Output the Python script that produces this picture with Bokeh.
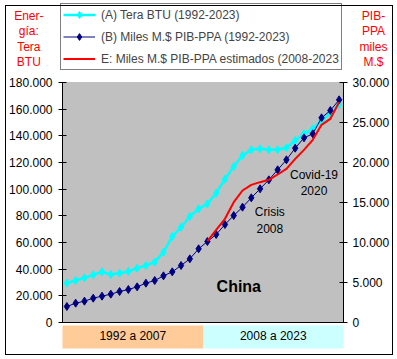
from bokeh.plotting import figure
from bokeh.models import (Range1d, LinearAxis, FixedTicker, CustomJSTickFormatter,
                          BoxAnnotation, Label, Legend, LegendItem, InlineStyleSheet)
from bokeh.embed import file_html
from bokeh.resources import INLINE

# ---------------- data ----------------
years = list(range(1992, 2024))
energy_tbtu = [29500, 31500, 33500, 35750, 38000, 36000, 37000, 38250, 40750, 42750,
               45250, 52750, 64500, 71500, 79500, 85250, 89000, 97000, 107500, 117000,
               125250, 129500, 130250, 129500, 129500, 131000, 136500, 141500, 145250,
               151500, 156500, 163500]
gdp_ppa = [2000, 2417, 2667, 3042, 3292, 3542, 3875, 4125, 4458, 4917, 5250, 5833, 6333,
           7125, 7958, 9208, 10125, 11000, 12250, 13375, 14417, 15583, 16708, 17833, 19083,
           20333, 21792, 23083, 23583, 25583, 26500, 27833]
est_years = list(range(2008, 2024))
gdp_est = [10167, 11583, 12958, 15042, 16500, 17208, 17542, 17833, 18500, 19208, 20458,
           21583, 22833, 24708, 25458, 27542]
left_ticks = [0, 20000, 40000, 60000, 80000, 100000, 120000, 140000, 160000, 180000]
right_ticks = [0, 5000, 10000, 15000, 20000, 25000, 30000]
period_start = [1992, 2008]
period_end = [2007, 2023]
period_labels = ["%d a %d" % (a, b) for a, b in zip(period_start, period_end)]
period_colors = ["#FFCC99", "#CCFFFF"]
series_labels = ["(A) Tera BTU (1992-2023)", "(B) Miles M.$ PIB-PPA (1992-2023)",
                 "E: Miles M.$ PIB-PPA estimados (2008-2023"]
left_title = ["Ener-", "gía:", "Tera", "BTU"]
right_title = ["PIB-", "PPA", "miles", "M.$"]
crisis_note = ["Crisis", "2008"]
covid_note = ["Covid-19", "2020"]

FONT = "Liberation Sans"
W, H = 397, 359
PX_L = 750.0      # left-axis units per pixel
PX_R = 125.0      # right-axis units per pixel
LMAX, RMAX = 180000, 30000
N = len(years)

def ly(py):       # canvas y -> left axis value
    return (322 - py) * PX_L

def dx(px):       # canvas x -> x data
    return (px - 62) * N / 281.0

x = [i + 0.5 for i in range(N)]
x_est = [years.index(y) + 0.5 for y in est_years]

p = figure(width=W, height=H, output_backend="svg", toolbar_location=None,
           x_range=Range1d(dx(0), dx(W)), y_range=Range1d(ly(H), ly(0)),
           x_axis_location=None, y_axis_location=None,
           min_border_left=0, min_border_right=0, min_border_top=0, min_border_bottom=0,
           background_fill_color="white", border_fill_color="white", outline_line_color=None)
p.extra_y_ranges = {"r": Range1d((322 - H) * PX_R, 322 * PX_R)}
p.grid.visible = False
p.stylesheets = [InlineStyleSheet(css=""":host::after { content: ""; position: absolute;
  left: 5px; top: 5px; width: 386px; height: 348px; border: 1px solid #000;
  pointer-events: none; z-index: 10; box-sizing: content-box; }""")]

# plot area background
p.add_layout(BoxAnnotation(left=0, right=N, bottom=0, top=LMAX, fill_color="#C0C0C0",
                           fill_alpha=1, line_color="#808080", line_width=1, level="underlay"))

# period bands below the plot
p.quad(left=[years.index(s) for s in period_start],
       right=[years.index(e) + 1 for e in period_end],
       bottom=ly(348), top=ly(325), fill_color=period_colors, line_color=None)
p.text(x=[(years.index(s) + years.index(e) + 1) / 2 for s, e in zip(period_start, period_end)],
       y=ly(335.5), text=period_labels, text_align="center", text_baseline="middle",
       text_font={"value": FONT}, text_font_size="12px", text_color="black")

# series
cyan_line = p.line(x, energy_tbtu, line_color="#00FFFF", line_width=2.5)
cyan_pts = p.scatter(x, energy_tbtu, marker="diamond", size=8, fill_color="#00FFFF",
                     line_color="#00FFFF")
navy_line = p.line(x, gdp_ppa, y_range_name="r", line_color="#000080", line_width=1)
navy_pts = p.scatter(x, gdp_ppa, y_range_name="r", marker="diamond", size=8,
                     fill_color="#000080", line_color="#000080")
red_line = p.line(x_est, gdp_est, y_range_name="r", line_color="#FF0000", line_width=2)

# axes (drawn at fixed data locations)
fmt = CustomJSTickFormatter(code=r"""return tick.toFixed(0).replace(/\B(?=(\d{3})+(?!\d))/g, ".");""")

def style_axis(ax, standoff):
    ax.axis_line_color = "black"
    ax.major_tick_line_color = "black"
    ax.major_tick_in = 4
    ax.major_tick_out = 4
    ax.minor_tick_line_color = None
    ax.major_label_text_font = FONT
    ax.major_label_text_font_size = "12px"
    ax.major_label_text_color = "black"
    ax.major_label_standoff = standoff

left = LinearAxis(ticker=FixedTicker(ticks=left_ticks), formatter=fmt, bounds=(0, LMAX),
                  fixed_location=0)
style_axis(left, 6)
p.add_layout(left, "left")
right = LinearAxis(y_range_name="r", ticker=FixedTicker(ticks=right_ticks), formatter=fmt,
                   bounds=(0, RMAX), fixed_location=N)
style_axis(right, 5)
p.add_layout(right, "right")
bottom = LinearAxis(ticker=FixedTicker(ticks=[]), bounds=(0, N), fixed_location=0,
                    axis_line_color="black", minor_tick_line_color=None,
                    major_tick_line_color=None)
p.add_layout(bottom, "below")

def add_lines(lines, px, pys, color, size="12px", style="normal"):
    for txt, py in zip(lines, pys):
        p.add_layout(Label(x=dx(px), y=ly(py), text=txt, text_align="center",
                           text_baseline="middle", text_font=FONT, text_font_size=size,
                           text_font_style=style, text_color=color))

# axis titles
add_lines(left_title, 28.3, [15, 30.5, 46, 61.5], "#FF0000")
add_lines(right_title, 373, [15, 30.5, 46, 61.5], "#FF0000")
# annotations
add_lines(crisis_note, 269.3, [211, 227.5], "black")
add_lines(covid_note, 313.5, [174, 190], "black")
add_lines(["China"], 238.3, [285.7], "black", size="16px", style="bold")

legend = Legend(items=[LegendItem(label=series_labels[0], renderers=[cyan_line, cyan_pts]),
                       LegendItem(label=series_labels[1], renderers=[navy_line, navy_pts]),
                       LegendItem(label=series_labels[2], renderers=[red_line])],
                location=(60, H - 70), padding=2, spacing=5, label_height=17, glyph_height=17,
                glyph_width=32, label_standoff=6, label_text_font=FONT,
                label_text_font_size="12px", border_line_color="black", border_line_width=1,
                background_fill_color="white", background_fill_alpha=1, margin=0)
p.add_layout(legend)

open("out.html", "w").write(file_html(p, INLINE))
